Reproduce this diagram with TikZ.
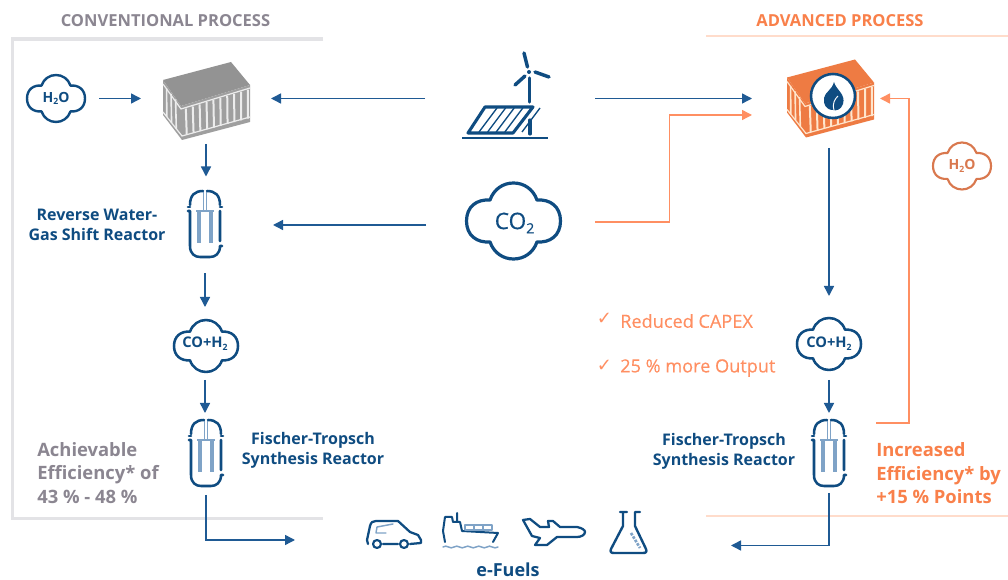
\documentclass[tikz,border=0pt]{standalone}
\usepackage{fontspec}
\setmainfont{Open Sans}
\newfontfamily\checkfont{DejaVu Sans}
\newfontfamily\medfont[FakeBold=0.25]{Open Sans}
\newfontfamily\heavyfont[FakeBold=0.6]{Open Sans}
\usetikzlibrary{arrows.meta}
\definecolor{navy}{HTML}{0F4C81}
\definecolor{flowblue}{HTML}{1F5A94}
\definecolor{tube}{HTML}{7FA3C7}
\definecolor{orangeA}{HTML}{F9804A}
\definecolor{orangeB}{HTML}{FF8F62}
\definecolor{orangeC}{HTML}{D9784E}
\definecolor{boxorange}{HTML}{EE7B43}
\definecolor{titlegrey}{HTML}{8B8691}
\definecolor{framegrey}{HTML}{E3E3E6}
\definecolor{framepeach}{HTML}{FFDCCB}
\newcommand{\subtwo}{\raisebox{-.35ex}{\fontsize{6.5}{7}\selectfont 2}}
\newcommand{\fs}[1]{\fontsize{#1}{#1}\selectfont}
\tikzset{
  x=.75pt,y=-.75pt,
  box/.style 2 args={minimum width=#1*.75pt,minimum height=#2*.75pt,inner sep=0pt,outer sep=0pt},
  flow/.style={draw=flowblue,line width=1.1pt,-{Triangle[length=7.5pt,width=7.5pt]}},
  flowo/.style={draw=orangeB,line width=1.1pt,-{Triangle[length=7.5pt,width=7.5pt]}},
  icon/.style={draw=navy,line width=1.9pt,line cap=round,line join=round},
  thin icon/.style={draw=tube,line width=1.1pt,line cap=round,line join=round},
  frameg/.style={draw=framegrey,line width=2.7pt},
  framep/.style={draw=framepeach,line width=2.2pt},
  blue label/.style={text=navy,font=\bfseries\fs{12},align=center,inner sep=0pt},
  side label/.style={font=\bfseries\fs{13.8},align=left,anchor=west,inner sep=0pt},
  title label/.style={font=\bfseries\fs{12.4},inner sep=0pt},
  note label/.style={text=orangeB,font=\medfont\fs{13.6},anchor=west,inner sep=0pt},
}
% cloud: centre x,y, half width, half height, colour, line width
\newcommand{\cloudicon}[6]{%
  \draw[draw=#5,line width=#6,line join=round,xshift=#1*.75pt,yshift=-#2*.75pt,x=#3*.75pt,y=#4*.75pt]
    (-1,0) .. controls (-1,.38) and (-.78,.58) .. (-.5,.55)
    .. controls (-.42,.84) and (-.22,1) .. (0,1)
    .. controls (.22,1) and (.42,.84) .. (.5,.55)
    .. controls (.78,.58) and (1,.38) .. (1,0)
    .. controls (1,-.38) and (.78,-.58) .. (.5,-.55)
    .. controls (.42,-.84) and (.22,-1) .. (0,-1)
    .. controls (-.22,-1) and (-.42,-.84) .. (-.5,-.55)
    .. controls (-.78,-.58) and (-1,-.38) .. (-1,0) -- cycle;}
% reactor: centre x,y
\newcommand{\reactoricon}[2]{%
  \begin{scope}[xshift=#1*.75pt,yshift=-#2*.75pt]
    \draw[tube,line width=3pt] (-6,-12) -- (-6,19) (6,-12) -- (6,19);
    \draw[tube,line width=1.4pt] (-9,-13) -- (9,-13) (-1.5,-33) -- (-1.5,-13) (1.5,-33) -- (1.5,-13);
    \draw[icon] (-15,-19) .. controls (-15,-29) and (-10,-33) .. (-2,-33);
    \draw[icon] (15,-19) .. controls (15,-29) and (10,-33) .. (2,-33);
    \draw[icon] (-17,-17) -- (-15,-17) (15,-17) -- (17,-17);
    \draw[icon] (-17,-13) -- (-15,-13) (-15,-13) -- (-15,22) .. controls (-15,30) and (-10,33) .. (-5,33) -- (5,33)
       .. controls (10,33) and (15,30) .. (15,22) (17,22) -- (15,22) (15,-13) -- (15,17);
  \end{scope}}
% container: shift x,y
\newcommand{\containericon}[5]{%
  \begin{scope}[xshift=#1*.75pt,yshift=-#2*.75pt]
    \fill[#3] (163,80) -- (231,62) -- (250,85) -- (181,106) -- cycle;
    \fill[#4] (163,80) -- (181,106) -- (250,85) -- (250,122) -- (182,140) -- (163,115) -- cycle;
    \foreach \t in {.07,.17,...,.97}
      \draw[#5,line width=1.5pt] ({181+69*\t},{110-21*\t}) -- ({182+68*\t},{136-18*\t});
    \foreach \t in {.2,.45,.7}
      \draw[#5,line width=1.2pt] ({163+18*\t},{84+22*\t}) -- ({163+19*\t},{112+24*\t});
    \draw[#5,line width=.9pt] (163,84) -- (181,109) -- (250,88);
    \draw[#5,line width=.9pt] (163,112) -- (182,136) -- (250,117);
  \end{scope}}
\begin{document}
\begin{tikzpicture}
\useasboundingbox (0,0) rectangle (1008,580);
\fill[white] (0,0) rectangle (1008,580);
% frames
\draw[frameg] (323,39) -- (12.5,39) -- (12.5,518.5) -- (323,518.5);
\draw[framep] (706,36) -- (1008,36);
\draw[framep] (706,516) -- (1008,516);
\node[title label,text=titlegrey] (titleL) at (165.5,20.5) {CONVENTIONAL PROCESS};
\node[title label,text=orangeA] (titleR) at (840,20.5) {ADVANCED PROCESS};
% icons
\cloudicon{56}{98.5}{29}{23.5}{navy}{1.8pt}
\cloudicon{206}{346}{32}{26}{navy}{1.9pt}
\cloudicon{829}{344}{32}{26}{navy}{1.9pt}
\cloudicon{962}{166}{29}{23.5}{orangeC}{1.6pt}
\cloudicon{513.5}{221}{47}{38}{navy}{2.4pt}
\containericon{0}{0}{gray!85}{gray!75}{gray!15}
\containericon{624}{-2.5}{boxorange}{boxorange}{orange!20}
\reactoricon{205}{224}
\reactoricon{206}{453}
\reactoricon{829}{453}
% flame disc
\draw[navy,fill=white,line width=1.9pt] (833,96) circle[radius=22];
\fill[navy] (834,82) .. controls (836,90) and (846,94) .. (843,104) .. controls (841,110) and (836,111) .. (833,110)
  .. controls (826,110) and (823,104) .. (824,98) .. controls (825,92) and (832,90) .. (834,82) -- cycle;
\draw[white,line width=.7pt] (834,110) .. controls (832,103) and (835,99) .. (838,96);
% wind + solar
\draw[icon,line width=2.6pt] (529.5,78) -- (529.5,102);
\draw[icon,line width=2.6pt] (527.5,67) -- (524,53);
\draw[icon,line width=2.6pt] (535,72) -- (549,77);
\draw[icon,line width=2.6pt] (525,76) -- (515,85);
\fill[navy] (529,72) circle[radius=2];
\draw[icon,line width=2.3pt] (485,107) -- (533,107) -- (513,133) -- (468,133) -- cycle;
\foreach \i in {0,1,2,3,4,5}
  \draw[draw=navy,line width=1pt] ({479+\i*8.6},132) -- ({497+\i*8.6},108);
\draw[icon,line width=2.3pt] (530,120) -- (530,134);
\draw[navy,line width=1.5pt] (462,138) -- (548,138);
% car
\draw[icon,line width=1.7pt] (368,544) -- (367,540) -- (370,526) .. controls (371,522) and (373,521) .. (376,521) -- (398,521) -- (410,532) -- (418,535) -- (421,540) -- (421,543) -- (410,544);
\draw[thin icon] (376,533) -- (377,527) -- (393,524) (376,533) -- (386,533);
\draw[icon,line width=1.6pt] (377,544) circle[radius=4] (404,544) circle[radius=4] (383,544) -- (398,544);
% ship
\draw[icon,line width=1.5pt] (445,517) -- (452,517) -- (453,522) -- (460,522) -- (462,531) -- (498,533) -- (493,542) (445,517) -- (443,531) -- (445,542) (457,513) -- (457,522);
\draw[thin icon] (465,525) rectangle (492,530) (474,525) -- (474,530) (483,525) -- (483,530);
\draw[thin icon] (443,547) .. controls (447,544) and (450,550) .. (454,547) .. controls (458,544) and (461,550) .. (465,547) .. controls (469,544) and (472,550) .. (476,547) .. controls (480,544) and (483,550) .. (487,547) .. controls (490,544) and (494,550) .. (498,547);
% plane
\draw[icon,line width=1.7pt] (523,520) -- (530,519) -- (540,527) -- (549,527) -- (548,521) -- (553,521) -- (560,527) -- (577,527) .. controls (582,528) and (585,530) .. (585,532) .. controls (585,535) and (581,537) .. (577,537) -- (557,537) -- (547,545) -- (535,545) -- (540,538) -- (532,536) -- cycle;
% flask
\draw[icon,line width=1.8pt] (620,512) -- (627,512) (635,512) -- (640,512) (623,512) -- (623,526) -- (611,549) .. controls (610,552) and (611,553) .. (614,553) -- (643,553) .. controls (646,553) and (647,552) .. (646,549) -- (635,526) -- (635,512);
\draw[tube,dash pattern=on 2pt off 1pt,line width=2pt] (631,533) -- (640,548);
% labels in icons
\node[box={86}{60},text=navy,font=\bfseries\fs{10.5}] (h2oL) at (56,98.5) {H\subtwo O};
\node[box={136}{97}] (reactorA) at (205,225) {};
\node[box={130}{91}] (stackL) at (206,98.5) {};
\node[box={110}{73},text=navy,font=\bfseries\fs{11}] (cogasL) at (205,343.5) {CO+H\subtwo};
\node[box={60}{82}] (reactorB) at (206,454) {};
\node[box={170}{90}] (wind) at (510,98.5) {};
\node[box={169}{60}] (co2) at (510.5,225) {};
\node[text=navy,font=\heavyfont\fs{17},inner sep=0pt] (co2text) at (514.5,223) {CO\raisebox{-.35ex}{\fs{10.5}2}};
\node[box={128}{99}] (containerR) at (816,98.5) {};
\node[box={110}{84}] (cogasR) at (829,338) {};
\node[text=navy,font=\bfseries\fs{11},inner sep=0pt] (cogasRtext) at (829,344) {CO+H\subtwo};
\node[box={60}{80}] (reactorD) at (829,453) {};
\node[text=orangeC,font=\bfseries\fs{10.5},inner sep=0pt] (h2oR) at (962,166) {H\subtwo O};
% coordinates for free ends
\coordinate (co2out) at (595,222);
\coordinate (co2in) at (752,115);
\coordinate (retStart) at (876,423);
\coordinate (retTurn) at (909,98.5);
\coordinate (fuelL) at (295,540);
\coordinate (fuelR) at (731,545.5);
\coordinate (cogasRbottom) at (829,380);
\coordinate (efuelElbowD) at (829,493);
\coordinate (efuelElbowB) at (206,495);
% connectors
\draw[flow] (h2oL.east) -- (stackL.west);
\draw[flow] (wind.west) -- (stackL.east);
\draw[flow] (stackL.south) -- (stackL.south |- reactorA.north);
\draw[flow] (co2.west) -- (reactorA.east);
\draw[flow] (reactorA.south) -- (cogasL.north);
\draw[flow] (cogasL.south) -- (cogasL.south |- reactorB.north);
\draw[flow] (efuelElbowB) |- (fuelL);
\draw[flow] (wind.east) -- (containerR.west);
\draw[flowo] (co2out) -| (669.5,115) -- (co2in);
\draw[flow] (cogasR.north |- containerR.south) -- (cogasR.north);
\draw[flow] (cogasRbottom) -- (cogasRbottom |- reactorD.north);
\draw[flow] (efuelElbowD) |- (fuelR);
\draw[flowo] (retStart) -| (retTurn) -- (containerR.east);
% text
\node[blue label] (rwgs) at (97,224.5) {Reverse Water-\\[3pt]Gas Shift Reactor};
\node[blue label] (ftL) at (313,450) {Fischer-Tropsch\\[3pt]Synthesis Reactor};
\node[blue label] (ftR) at (724,451) {Fischer-Tropsch\\[3pt]Synthesis Reactor};
\node[side label,text=titlegrey] (effL) at (37,473) {Achievable\\[3.8pt]Efficiency* of\\[3.8pt]43 \% - 48 \%};
\node[side label,text=orangeA] (effR) at (876,473.5) {Increased\\[3.8pt]Efficiency* by\\[3.8pt]+15 \% Points};
\node[note label] (capex) at (620,321) {Reduced CAPEX};
\node[note label] (output) at (620,368) {25 \% more Output};
\node[text=orangeB,font=\checkfont\bfseries\fs{13.5},inner sep=0pt] (chk1) at (604.5,319) {✓};
\node[text=orangeB,font=\checkfont\bfseries\fs{13.5},inner sep=0pt] (chk2) at (604.5,366) {✓};
\node[blue label,font=\bfseries\fs{13.5}] (efuels) at (508,569.5) {e-Fuels};
\end{tikzpicture}
\end{document}
